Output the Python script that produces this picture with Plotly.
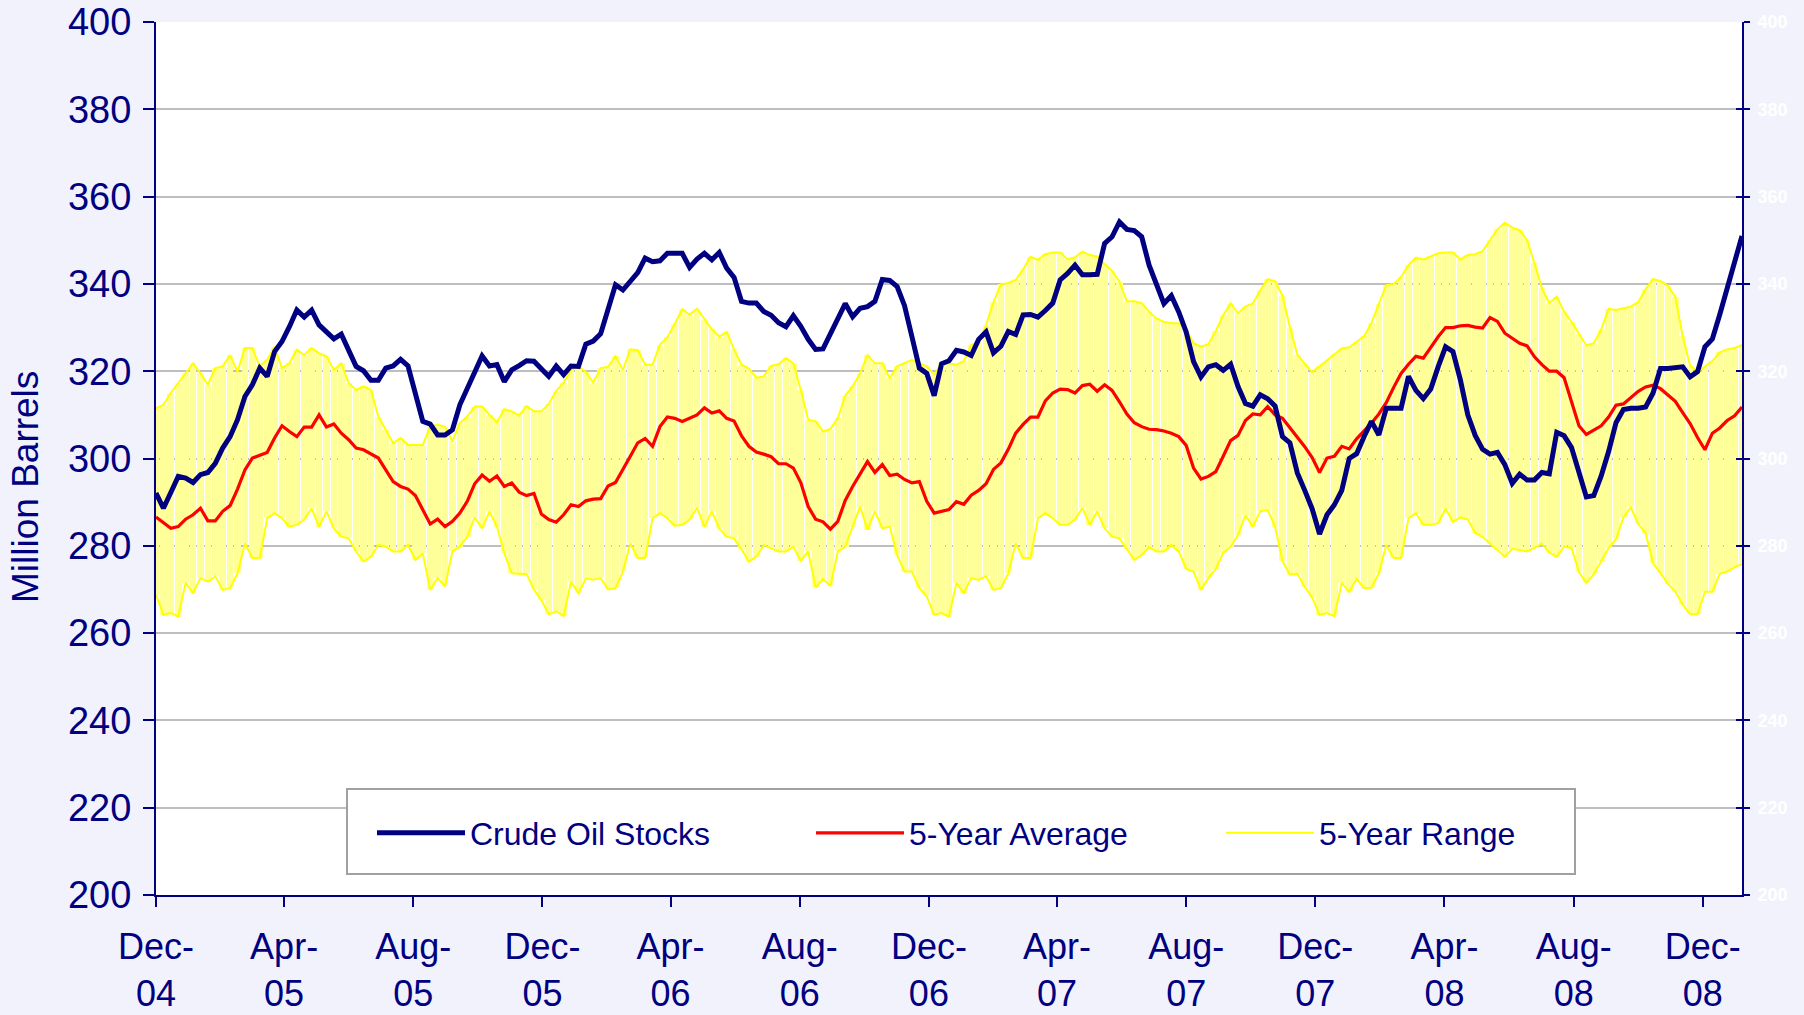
import pandas as pd
import plotly.graph_objects as go

# Weekly observations, first week of Dec 2004 through first week of Jan 2009
start_date = "2004-12-01"
n_weeks = 215

crude_oil_stocks = [
    292.1, 288.6, 292.2, 295.9, 295.5, 294.5, 296.3, 296.8, 298.9, 302.4,
    305.0, 308.9, 314.2, 316.9, 320.7, 318.8, 324.5, 326.8, 330.2, 334.0,
    332.4, 334.0, 330.6, 329.1, 327.4, 328.5, 324.5, 321.1, 320.1, 317.9,
    317.9, 320.7, 321.2, 322.7, 321.2, 315.0, 308.5, 307.9, 305.4, 305.4,
    306.6, 312.3, 316.1, 319.7, 323.5, 321.2, 321.5, 317.6, 320.3, 321.3,
    322.4, 322.3, 320.5, 318.8, 321.2, 319.2, 321.2, 321.1, 326.2, 326.9,
    328.6, 334.5, 339.8, 338.6, 340.5, 342.6, 345.9, 345.1, 345.3, 347.0,
    347.0, 347.0, 343.8, 345.7, 347.0, 345.5, 347.2, 343.6, 341.5, 336.0,
    335.6, 335.6, 333.7, 332.8, 331.1, 330.2, 332.7, 330.3, 327.3, 325.0,
    325.1, 328.6, 331.5, 335.5, 332.5, 334.4, 334.8, 336.0, 341.0, 340.8,
    339.4, 335.0, 327.9, 320.7, 319.5, 314.4, 321.7, 322.4, 324.8, 324.4,
    323.6, 327.3, 329.0, 324.2, 325.7, 329.1, 328.4, 332.9, 333.0, 332.4,
    333.9, 335.6, 340.9, 342.4, 344.3, 342.1, 342.1, 342.2, 349.3, 350.8,
    354.2, 352.5, 352.2, 350.8, 344.3, 339.5, 335.5, 337.3, 333.6, 329.0,
    322.2, 318.7, 321.0, 321.5, 320.2, 321.6, 316.5, 312.6, 312.0, 314.6,
    313.7, 312.0, 305.0, 303.6, 296.7, 292.7, 288.5, 282.7, 287.1, 289.4,
    292.7, 300.0, 301.1, 305.0, 308.5, 305.4, 311.5, 311.5, 311.5, 318.8,
    315.6, 313.7, 315.9, 321.0, 325.6, 324.5, 318.0, 310.0, 305.3, 302.1,
    301.0, 301.4, 298.6, 294.3, 296.4, 295.1, 295.1, 296.8, 296.5, 306.0,
    305.2, 302.5, 296.5, 291.2, 291.5, 296.0, 301.6, 308.2, 311.2, 311.5,
    311.5, 311.8, 315.0, 320.6, 320.6, 320.8, 321.0, 318.7, 319.9, 325.6,
    327.4, 333.0, 338.8, 345.2, 351.0,
]

five_year_average = [
    286.6, 285.2, 284.0, 284.4, 286.1, 287.1, 288.6, 285.7, 285.7, 287.9,
    289.2, 293.0, 297.4, 300.1, 300.8, 301.4, 304.7, 307.5, 306.2, 305.0,
    307.2, 307.2, 310.0, 307.2, 307.9, 305.8, 304.3, 302.4, 302.0, 301.1,
    300.1, 297.4, 294.7, 293.6, 293.0, 291.5, 288.2, 285.0, 286.1, 284.4,
    285.6, 287.5, 290.2, 294.2, 296.2, 294.8, 296.0, 293.6, 294.4, 292.3,
    291.5, 292.0, 287.3, 286.0, 285.4, 287.1, 289.4, 289.0, 290.3, 290.7,
    290.8, 293.7, 294.5, 297.4, 300.5, 303.6, 304.6, 302.8, 307.3, 309.5,
    309.2, 308.5, 309.2, 310.0, 311.6, 310.4, 310.9, 309.2, 308.6, 305.2,
    302.8, 301.5, 301.0, 300.4, 298.8, 298.8, 297.8, 294.5, 289.0, 286.1,
    285.5, 283.8, 285.6, 290.4, 293.6, 296.6, 299.3, 296.8, 298.6, 296.1,
    296.4, 295.2, 294.4, 294.7, 290.2, 287.5, 287.9, 288.3, 290.1, 289.5,
    291.6, 292.7, 294.2, 297.5, 299.0, 302.1, 305.8, 307.8, 309.5, 309.5,
    313.2, 315.0, 315.9, 315.8, 315.0, 316.7, 317.0, 315.4, 316.9, 315.6,
    313.0, 310.2, 308.2, 307.3, 306.7, 306.6, 306.3, 305.8, 305.0, 303.0,
    297.8, 295.3, 295.9, 297.0, 300.5, 304.1, 305.3, 308.7, 310.2, 310.0,
    311.9, 310.0, 309.2, 307.0, 305.0, 302.7, 300.2, 296.8, 300.1, 300.5,
    302.8, 302.2, 304.5, 306.3, 308.1, 310.2, 312.8, 316.3, 319.5, 321.6,
    323.4, 323.0, 325.6, 327.9, 330.0, 330.0, 330.4, 330.5, 330.1, 329.9,
    332.3, 331.4, 328.7, 327.6, 326.4, 325.8, 323.3, 321.5, 320.0, 320.0,
    318.5, 313.0, 307.5, 305.5, 306.5, 307.5, 309.5, 312.2, 312.5, 314.0,
    315.4, 316.4, 316.8, 316.0, 314.6, 313.1, 310.5, 308.0, 304.8, 302.0,
    305.8, 307.0, 308.7, 309.8, 311.8,
]

five_year_max = [
    311.5, 312.3, 315.0, 317.3, 319.5, 321.8, 319.5, 316.9, 320.7, 321.1,
    323.7, 319.9, 325.3, 325.3, 321.1, 322.6, 325.6, 320.7, 321.8, 324.9,
    323.7, 325.3, 324.1, 323.4, 320.3, 321.8, 317.3, 315.7, 316.5, 315.7,
    309.6, 306.6, 303.5, 304.7, 303.1, 303.1, 303.1, 307.3, 307.7, 307.3,
    303.9, 308.1, 309.6, 311.9, 311.9, 310.0, 308.3, 311.3, 310.8, 309.8,
    312.0, 310.8, 310.8, 312.5, 315.5, 317.4, 320.2, 321.1, 319.8, 317.4,
    320.7, 321.0, 323.4, 320.3, 325.0, 324.8, 321.5, 321.5, 326.1, 327.8,
    330.8, 334.2, 332.9, 334.3, 331.8, 329.6, 327.9, 329.0, 325.0, 321.5,
    320.6, 318.5, 318.8, 321.2, 321.6, 323.0, 321.8, 315.7, 308.9, 308.5,
    306.2, 306.8, 309.2, 314.4, 316.5, 319.5, 323.7, 321.8, 321.8, 318.4,
    321.1, 321.8, 322.6, 321.8, 321.1, 319.2, 321.8, 321.8, 321.5, 322.3,
    326.0, 326.6, 330.5, 335.8, 339.9, 340.2, 340.9, 343.3, 346.2, 345.5,
    346.8, 347.2, 347.2, 345.6, 346.1, 347.4, 346.6, 346.3, 344.5, 343.0,
    340.5, 336.0, 336.0, 335.6, 333.6, 332.1, 331.3, 331.0, 331.0, 329.6,
    326.4, 325.6, 326.2, 329.2, 332.8, 335.5, 333.3, 334.8, 335.5, 338.5,
    341.1, 340.6, 337.3, 330.0, 323.8, 321.7, 319.8, 321.1, 322.4, 323.9,
    325.2, 325.5, 326.8, 328.0, 331.0, 335.5, 339.7, 340.0, 341.6, 344.3,
    346.0, 345.6, 346.3, 347.0, 347.2, 347.2, 345.6, 346.6, 346.8, 347.5,
    350.0, 352.5, 354.0, 352.9, 352.3, 350.0, 344.7, 339.0, 335.6, 337.1,
    333.6, 331.3, 328.6, 325.9, 326.4, 329.5, 334.3, 334.0, 334.4, 334.8,
    335.8, 338.8, 341.1, 340.6, 339.6, 337.0, 328.0, 321.3, 319.8, 321.0,
    322.3, 324.3, 325.0, 325.3, 326.0,
]

five_year_min = [
    268.8, 264.2, 264.6, 263.8, 271.5, 269.2, 272.6, 271.8, 273.0, 269.9,
    270.3, 273.7, 280.6, 277.2, 277.2, 286.3, 287.5, 286.3, 284.4, 284.8,
    286.0, 288.6, 284.4, 287.9, 284.0, 282.1, 281.7, 278.7, 276.4, 277.5,
    280.2, 279.8, 278.7, 278.7, 280.2, 276.8, 278.3, 269.9, 272.6, 270.7,
    278.7, 279.8, 282.1, 286.5, 284.0, 287.9, 284.4, 278.3, 273.7, 273.6,
    273.5, 270.0, 267.5, 264.3, 265.0, 263.9, 271.8, 269.2, 272.5, 272.2,
    272.6, 270.0, 270.3, 274.1, 280.6, 277.2, 277.2, 286.3, 287.5, 286.3,
    284.6, 284.8, 286.0, 288.7, 284.4, 287.9, 284.0, 282.1, 281.7, 279.2,
    276.4, 277.5, 280.2, 279.4, 278.7, 278.7, 279.8, 276.6, 278.7, 270.5,
    272.4, 270.8, 278.7, 279.8, 284.4, 289.0, 283.7, 287.9, 284.0, 284.4,
    277.9, 274.1, 274.1, 270.3, 268.4, 264.2, 264.6, 263.8, 271.5, 269.2,
    272.6, 272.2, 273.0, 269.9, 270.3, 273.7, 280.6, 277.2, 277.2, 286.3,
    287.5, 286.3, 284.8, 284.8, 286.0, 288.7, 284.8, 287.9, 284.0, 282.1,
    281.7, 279.1, 276.8, 277.9, 279.7, 278.7, 278.7, 280.2, 278.7, 274.7,
    274.1, 269.9, 272.6, 274.7, 278.4, 279.8, 282.5, 287.0, 284.4, 287.9,
    288.2, 284.4, 276.5, 273.4, 273.6, 270.6, 268.2, 264.2, 264.6, 263.9,
    271.5, 269.4, 272.5, 270.3, 270.4, 273.7, 280.2, 277.2, 277.2, 286.3,
    287.5, 284.8, 284.8, 285.2, 288.5, 285.5, 286.5, 286.0, 283.0, 282.0,
    280.5, 279.0, 277.5, 279.3, 279.0, 278.7, 279.5, 280.5, 278.5, 277.5,
    279.8, 279.5, 274.0, 271.5, 273.5, 276.5, 279.5, 281.5, 286.5, 288.8,
    285.0, 282.9, 276.0, 273.8, 271.3, 269.5, 266.5, 264.3, 264.3, 269.5,
    269.5, 273.6, 274.1, 275.1, 275.8,
]

tick_dates = ["2004-12-01", "2005-04-01", "2005-08-01", "2005-12-01", "2006-04-01",
              "2006-08-01", "2006-12-01", "2007-04-01", "2007-08-01", "2007-12-01",
              "2008-04-01", "2008-08-01", "2008-12-01"]
tick_labels = ["Dec-<br>04", "Apr-<br>05", "Aug-<br>05", "Dec-<br>05", "Apr-<br>06",
               "Aug-<br>06", "Dec-<br>06", "Apr-<br>07", "Aug-<br>07", "Dec-<br>07",
               "Apr-<br>08", "Aug-<br>08", "Dec-<br>08"]
y_ticks = list(range(200, 401, 20))
y_title = "Million Barrels"

dates = pd.date_range(start_date, periods=n_weeks, freq="7D")

NAVY = "#000080"
SANS = "Liberation Sans, Arial, sans-serif"

fig = go.Figure()

# 5-year range as pale columns from min to max
fig.add_trace(go.Bar(
    x=dates, y=[hi - lo for hi, lo in zip(five_year_max, five_year_min)], base=five_year_min,
    width=6.3 * 86400000, marker=dict(color="#FFFF99", line=dict(width=0)),
    showlegend=False, hoverinfo="skip",
))
fig.add_trace(go.Scatter(
    x=dates, y=five_year_min, mode="lines", line=dict(color="#FFFF00", width=2),
    showlegend=False, hoverinfo="skip",
))
fig.add_trace(go.Scatter(
    x=dates, y=five_year_max, mode="lines", line=dict(color="#FFFF00", width=2),
    name="5-Year Range", legend="legend3",
))
fig.add_trace(go.Scatter(
    x=dates, y=five_year_average, mode="lines", line=dict(color="#FF0000", width=3.2),
    name="5-Year Average", legend="legend2",
))
fig.add_trace(go.Scatter(
    x=dates, y=crude_oil_stocks, mode="lines", line=dict(color=NAVY, width=5),
    name="Crude Oil Stocks", legend="legend",
))
# helpers so the right-hand axes are drawn
fig.add_trace(go.Scatter(x=dates[:1], y=[300], yaxis="y2", mode="markers",
                         marker=dict(opacity=0), showlegend=False, hoverinfo="skip"))
fig.add_trace(go.Scatter(x=dates[:1], y=[300], yaxis="y3", mode="markers",
                         marker=dict(opacity=0), showlegend=False, hoverinfo="skip"))

PW = 1586  # plot width in px
PH = 873   # plot height in px
legend_common = dict(
    orientation="h", bgcolor="rgba(0,0,0,0)", borderwidth=0,
    font=dict(family=SANS, size=32, color=NAVY),
    itemwidth=88, yanchor="middle", xanchor="left", y=0.071,
)
fig.update_layout(
    width=1804, height=1015,
    paper_bgcolor="#F2F2FC", plot_bgcolor="#FFFFFF",
    margin=dict(l=156, r=62, t=22, b=120, autoexpand=False),
    bargap=0,
    showlegend=True,
    legend=dict(legend_common, x=(372 - 156) / PW),
    legend2=dict(legend_common, x=(811 - 156) / PW),
    legend3=dict(legend_common, x=(1221 - 156) / PW),
    xaxis=dict(
        type="date", range=[dates[0], dates[-1]],
        tickvals=tick_dates, ticktext=tick_labels,
        tickfont=dict(family=SANS, size=36, color=NAVY),
        ticks="outside", ticklen=10, tickwidth=2, tickcolor=NAVY,
        showline=True, linecolor=NAVY, linewidth=2,
        showgrid=False, zeroline=False, ticklabelstandoff=9,
    ),
    yaxis=dict(
        range=[200, 400], tickvals=y_ticks,
        tickfont=dict(family=SANS, size=38, color=NAVY),
        ticks="outside", ticklen=11, tickwidth=2, tickcolor=NAVY,
        showline=True, linecolor=NAVY, linewidth=2,
        showgrid=True, gridcolor="#BEBEBE", gridwidth=1.5, zeroline=False,
        ticklabelstandoff=4,
    ),
    yaxis2=dict(
        overlaying="y", side="right", range=[200, 400], tickvals=y_ticks,
        tickfont=dict(family=SANS, size=18, color="#FFFFFF", weight="bold"),
        ticks="outside", ticklen=6, tickwidth=2, tickcolor=NAVY,
        showline=True, linecolor=NAVY, linewidth=2, showgrid=False, zeroline=False,
        ticklabelstandoff=4,
    ),
    yaxis3=dict(
        overlaying="y", side="right", range=[200, 400], tickvals=y_ticks,
        showticklabels=False, ticks="inside", ticklen=6, tickwidth=2, tickcolor=NAVY,
        showline=False, showgrid=False, zeroline=False,
    ),
    annotations=[dict(
        text=y_title, textangle=-90, xref="paper", yref="paper",
        x=(25 - 156) / PW, y=(895 - 487) / PH, xanchor="center", yanchor="middle",
        showarrow=False, font=dict(family=SANS, size=37, color=NAVY),
    )],
    shapes=[dict(
        type="rect", xref="paper", yref="paper", layer="above",
        x0=(347 - 156) / PW, x1=(1575 - 156) / PW,
        y0=(895 - 874) / PH, y1=(895 - 789) / PH,
        line=dict(color="#A0A0A0", width=2), fillcolor="#FFFFFF",
    )],
)

fig.write_html("out.html", config={"displayModeBar": False},
               post_script="document.body.style.margin='0px';")
